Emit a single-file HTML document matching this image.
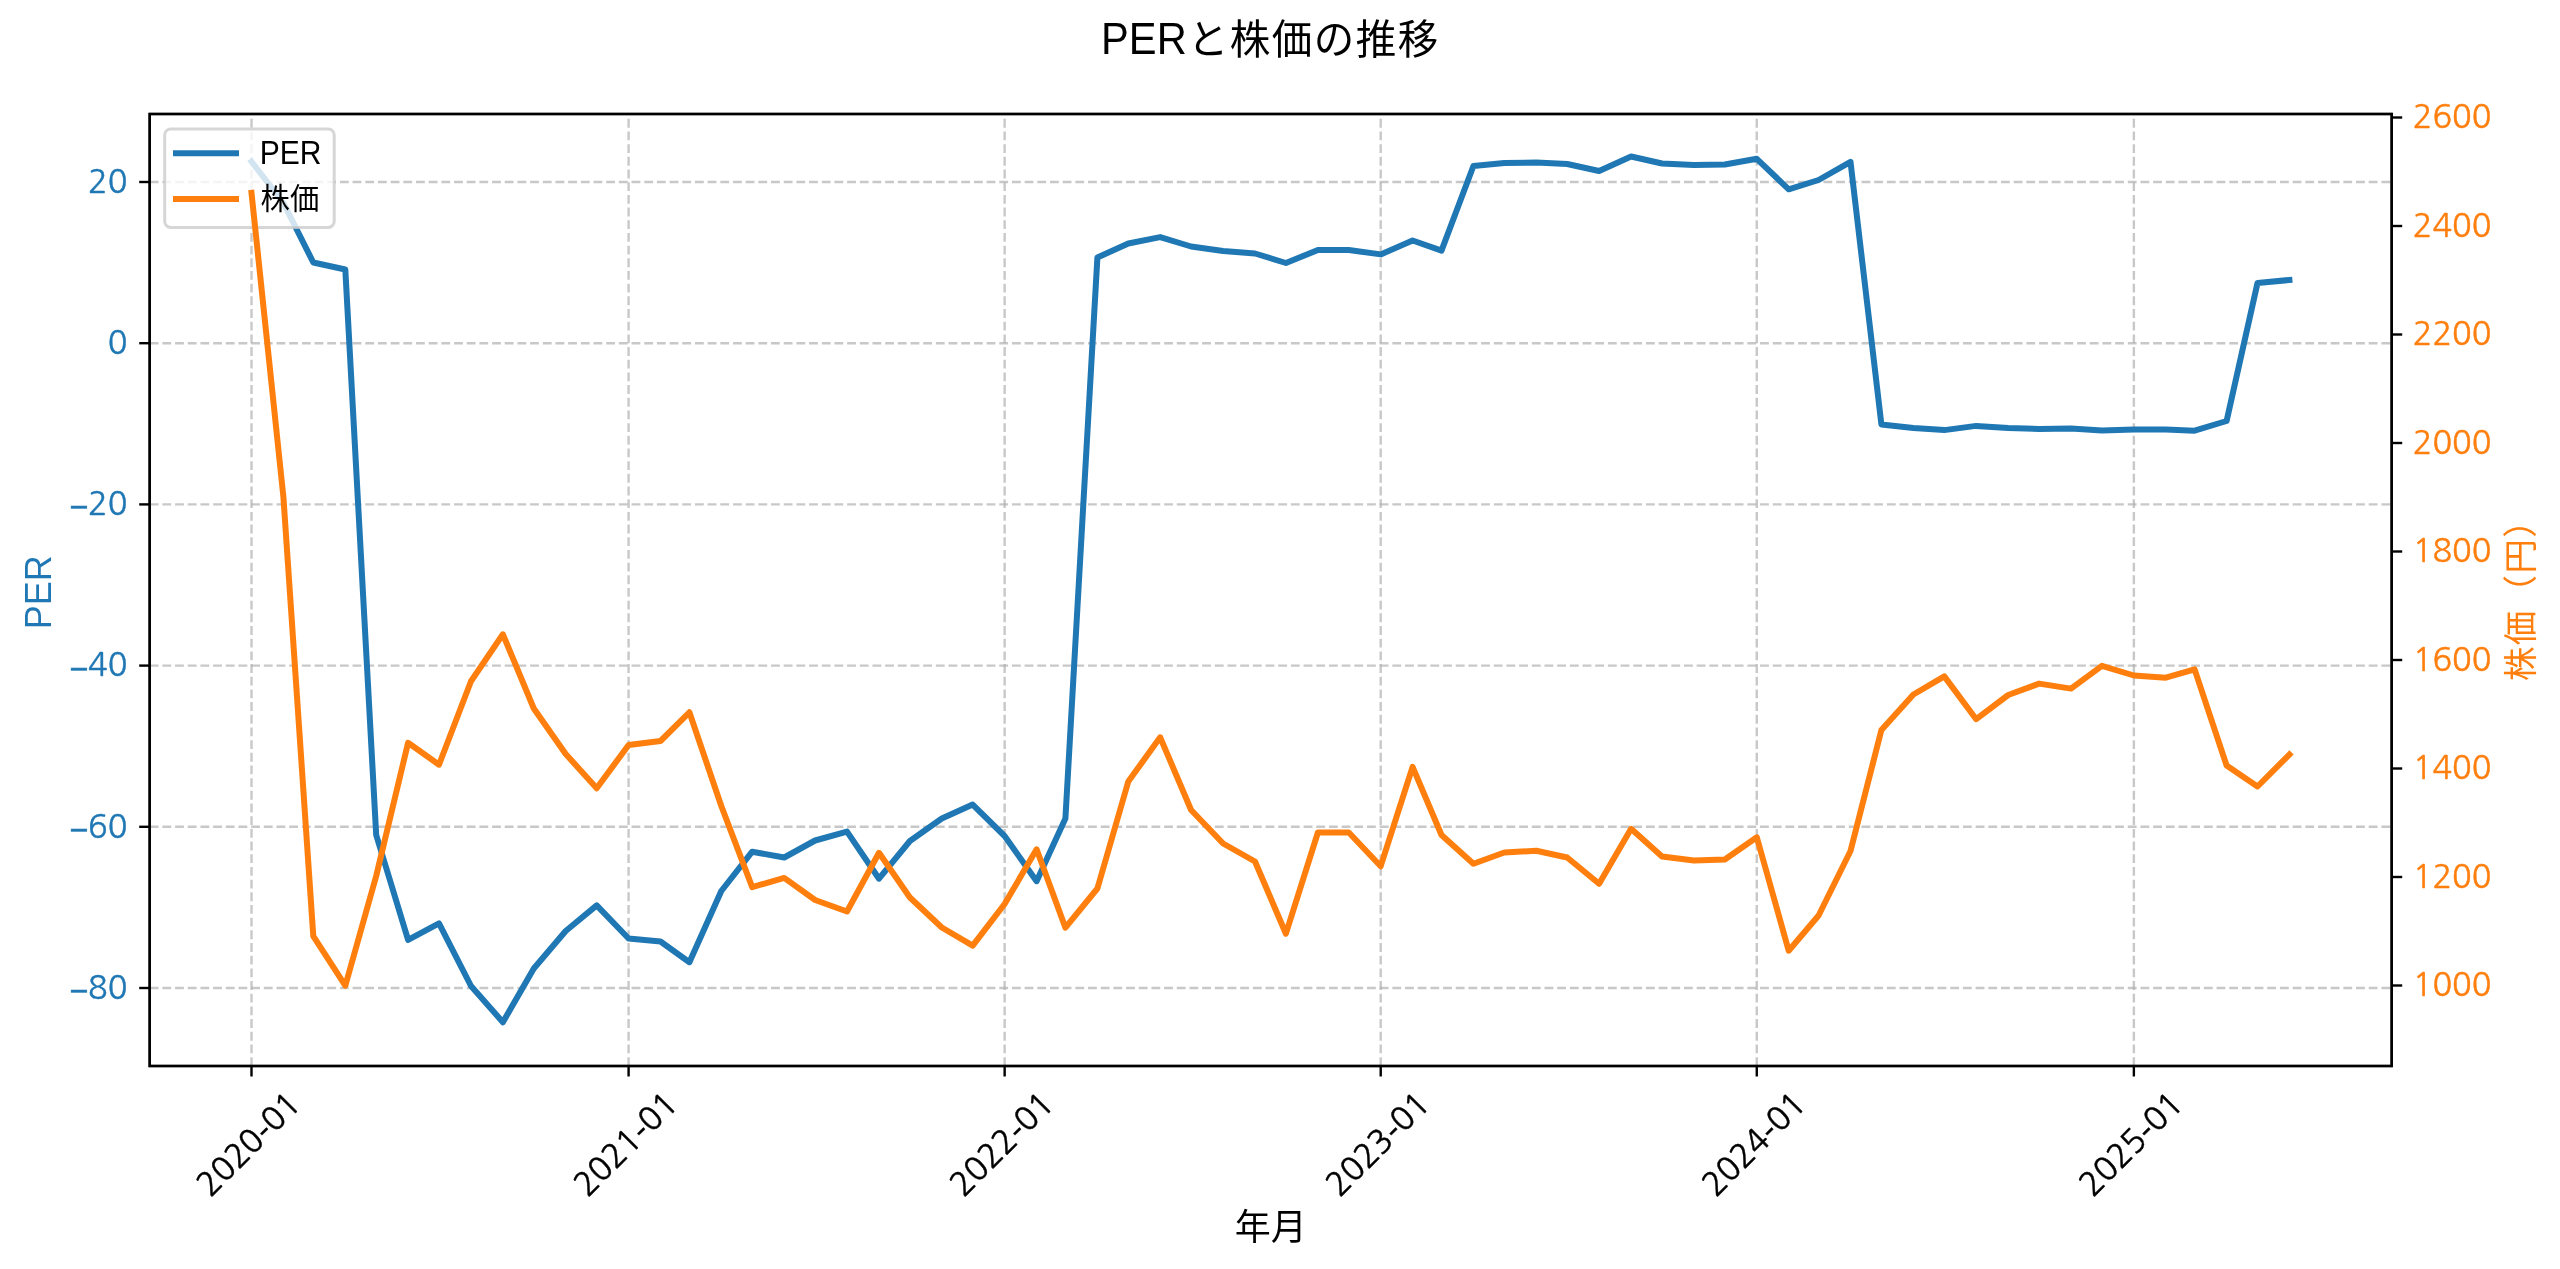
<!DOCTYPE html>
<html lang="ja"><head><meta charset="utf-8"><title>PERと株価の推移</title>
<style>html,body{margin:0;padding:0;background:#fff;}svg{display:block;will-change:transform;}text{font-family:"Liberation Sans", sans-serif;} .cjk{font-family:"Liberation Sans", "Noto Sans CJK JP", sans-serif;} .dg text{font-family:"NanumGothic", "Liberation Sans", sans-serif;}</style></head><body>
<svg width="2560" height="1269" viewBox="0 0 2560 1269">
<rect x="0" y="0" width="2560" height="1269" fill="#ffffff"/>
<defs><clipPath id="axclip"><rect x="149.7" y="114.0" width="2242.0" height="952.0"/></clipPath></defs>
<g id="grid" stroke="#b0b0b0" stroke-opacity="0.7" stroke-width="2.4" stroke-dasharray="8.85 3.83" fill="none" clip-path="url(#axclip)">
<path d="M251.50 1066.0V114.0"/>
<path d="M628.59 1066.0V114.0"/>
<path d="M1004.65 1066.0V114.0"/>
<path d="M1380.71 1066.0V114.0"/>
<path d="M1756.77 1066.0V114.0"/>
<path d="M2133.86 1066.0V114.0"/>
<path d="M149.7 182.00H2391.7"/>
<path d="M149.7 343.20H2391.7"/>
<path d="M149.7 504.40H2391.7"/>
<path d="M149.7 665.60H2391.7"/>
<path d="M149.7 826.80H2391.7"/>
<path d="M149.7 988.00H2391.7"/>
</g>
<polyline id="per-line" points="251.5,161.6 283.4,203.0 313.3,262.5 345.3,269.5 376.2,835.0 408.1,939.9 439.0,923.3 471.0,986.0 502.9,1022.2 533.8,968.5 565.7,931.0 596.7,905.4 628.6,938.5 660.5,941.5 689.4,962.2 721.3,891.0 752.2,851.7 784.2,857.5 815.1,840.5 847.0,831.6 879.0,878.7 909.9,841.0 941.8,818.5 972.7,804.6 1004.6,836.0 1036.6,881.2 1065.4,818.5 1097.4,257.5 1128.3,243.5 1160.2,237.1 1191.1,246.5 1223.1,251.0 1255.0,253.5 1285.9,263.0 1317.9,250.0 1348.8,250.0 1380.7,254.4 1412.6,240.5 1441.5,250.6 1473.4,166.0 1504.3,163.0 1536.3,162.5 1567.2,164.0 1599.1,171.0 1631.1,156.5 1662.0,163.5 1693.9,165.0 1724.8,164.5 1756.8,158.8 1788.7,189.3 1818.6,180.0 1850.5,161.8 1881.4,424.5 1913.4,428.0 1944.3,430.1 1976.2,425.9 2008.2,428.0 2039.1,429.0 2071.0,428.4 2101.9,430.6 2133.9,429.5 2165.8,429.5 2194.6,430.7 2226.6,421.0 2257.5,283.0 2289.4,280.0" fill="none" stroke="#1f77b4" stroke-width="6.0" stroke-linejoin="round" stroke-linecap="square" clip-path="url(#axclip)"/>
<g id="ax1-frame" stroke="#000" stroke-width="2.4" fill="none">
<rect x="149.7" y="114.0" width="2242.0" height="952.0"/>
<path d="M251.50 1066.0v10.5"/>
<path d="M628.59 1066.0v10.5"/>
<path d="M1004.65 1066.0v10.5"/>
<path d="M1380.71 1066.0v10.5"/>
<path d="M1756.77 1066.0v10.5"/>
<path d="M2133.86 1066.0v10.5"/>
<path d="M149.7 182.00h-10.5"/>
<path d="M149.7 343.20h-10.5"/>
<path d="M149.7 504.40h-10.5"/>
<path d="M149.7 665.60h-10.5"/>
<path d="M149.7 826.80h-10.5"/>
<path d="M149.7 988.00h-10.5"/>
</g>
<g id="ax1-ylabels" class="dg" stroke="#1f77b4" stroke-width="0.45" fill="#1f77b4" font-size="32.5" text-anchor="end">
<text x="127.5" y="192.8">20</text>
<text x="127.5" y="354.0">0</text>
<text x="127.5" y="515.2"><tspan dy="3.1">−</tspan><tspan dy="-3.1">20</tspan></text>
<text x="127.5" y="676.4"><tspan dy="3.1">−</tspan><tspan dy="-3.1">40</tspan></text>
<text x="127.5" y="837.6"><tspan dy="3.1">−</tspan><tspan dy="-3.1">60</tspan></text>
<text x="127.5" y="998.8"><tspan dy="3.1">−</tspan><tspan dy="-3.1">80</tspan></text>
</g>
<g id="xlabels" class="dg" stroke="#000" stroke-width="0.45" fill="#000" font-size="32.5" text-anchor="end">
<text transform="translate(302.5,1106.0) rotate(-45)">2020<tspan dy="3.4">-</tspan><tspan dy="-3.4">01</tspan></text>
<text transform="translate(679.6,1106.0) rotate(-45)">2021<tspan dy="3.4">-</tspan><tspan dy="-3.4">01</tspan></text>
<text transform="translate(1055.6,1106.0) rotate(-45)">2022<tspan dy="3.4">-</tspan><tspan dy="-3.4">01</tspan></text>
<text transform="translate(1431.7,1106.0) rotate(-45)">2023<tspan dy="3.4">-</tspan><tspan dy="-3.4">01</tspan></text>
<text transform="translate(1807.8,1106.0) rotate(-45)">2024<tspan dy="3.4">-</tspan><tspan dy="-3.4">01</tspan></text>
<text transform="translate(2184.9,1106.0) rotate(-45)">2025<tspan dy="3.4">-</tspan><tspan dy="-3.4">01</tspan></text>
</g>
<text id="xlabel" class="cjk" x="1270.7" y="1240" font-size="36.0" text-anchor="middle" fill="#000">年月</text>
<text id="ylabel1" transform="translate(50.8,592.3) rotate(-90)" font-size="37.5" text-anchor="middle" fill="#1f77b4" textLength="74.0" lengthAdjust="spacingAndGlyphs">PER</text>
<g id="legend">
<rect x="164.7" y="129.0" width="169.5" height="98.4" rx="6" ry="6" fill="#ffffff" fill-opacity="0.8" stroke="#cccccc" stroke-opacity="0.8" stroke-width="3"/>
<path d="M176.0 153.3h60" stroke="#1f77b4" stroke-width="6.0" stroke-linecap="square" fill="none"/>
<path d="M176.0 199.0h60" stroke="#ff7f0e" stroke-width="6.0" stroke-linecap="square" fill="none"/>
<text x="259.8" y="164.1" font-size="32.4" fill="#000" textLength="61.7" lengthAdjust="spacingAndGlyphs">PER</text>
<text class="cjk" x="260.6" y="209.0" font-size="29.3" fill="#000">株価</text>
</g>
<polyline id="price-line" points="251.5,192.8 283.4,497.0 313.3,936.2 345.3,985.7 376.2,876.0 408.1,742.8 439.0,764.7 471.0,681.2 502.9,634.3 533.8,708.5 565.7,754.0 596.7,788.2 628.6,745.0 660.5,741.0 689.4,712.3 721.3,806.0 752.2,887.1 784.2,877.9 815.1,900.0 847.0,911.5 879.0,852.8 909.9,897.5 941.8,927.5 972.7,945.6 1004.6,904.0 1036.6,849.3 1065.4,927.7 1097.4,888.5 1128.3,781.5 1160.2,737.3 1191.1,810.0 1223.1,843.5 1255.0,861.5 1285.9,933.7 1317.9,832.5 1348.8,832.5 1380.7,866.2 1412.6,766.8 1441.5,835.0 1473.4,863.8 1504.3,852.5 1536.3,850.8 1567.2,857.5 1599.1,883.7 1631.1,828.8 1662.0,856.5 1693.9,860.6 1724.8,859.5 1756.8,837.3 1788.7,950.7 1818.6,915.5 1850.5,851.0 1881.4,730.0 1913.4,694.5 1944.3,676.4 1976.2,719.2 2008.2,695.0 2039.1,683.6 2071.0,688.6 2101.9,665.8 2133.9,675.5 2165.8,677.7 2194.6,669.4 2226.6,765.5 2257.5,786.5 2289.4,754.5" fill="none" stroke="#ff7f0e" stroke-width="6.0" stroke-linejoin="round" stroke-linecap="square" clip-path="url(#axclip)"/>
<g id="ax2-frame" stroke="#000" stroke-width="2.4" fill="none">
<rect x="149.7" y="114.0" width="2242.0" height="952.0"/>
<path d="M2391.7 117.50h10.5"/>
<path d="M2391.7 226.00h10.5"/>
<path d="M2391.7 334.50h10.5"/>
<path d="M2391.7 443.00h10.5"/>
<path d="M2391.7 551.50h10.5"/>
<path d="M2391.7 660.00h10.5"/>
<path d="M2391.7 768.50h10.5"/>
<path d="M2391.7 877.00h10.5"/>
<path d="M2391.7 985.50h10.5"/>
</g>
<g id="ax2-ylabels" class="dg" stroke="#ff7f0e" stroke-width="0.45" fill="#ff7f0e" font-size="32.5" text-anchor="start">
<text x="2412.7" y="128.3">2600</text>
<text x="2412.7" y="236.8">2400</text>
<text x="2412.7" y="345.3">2200</text>
<text x="2412.7" y="453.8">2000</text>
<text x="2412.7" y="562.3">1800</text>
<text x="2412.7" y="670.8">1600</text>
<text x="2412.7" y="779.3">1400</text>
<text x="2412.7" y="887.8">1200</text>
<text x="2412.7" y="996.3">1000</text>
</g>
<text id="ylabel2" class="cjk" transform="translate(2532.7,591.5) rotate(-90)" font-size="34.5" letter-spacing="1.3" text-anchor="middle" fill="#ff7f0e">株価（円）</text>
<text id="title-latin" x="1186.7" y="54.1" font-size="44.2" text-anchor="end" fill="#000" textLength="85.6" lengthAdjust="spacingAndGlyphs">PER</text>
<text id="title-cjk" class="cjk" x="1187.8" y="54.1" font-size="40.5" letter-spacing="1.5" text-anchor="start" fill="#000">と株価の推移</text>
</svg></body></html>
